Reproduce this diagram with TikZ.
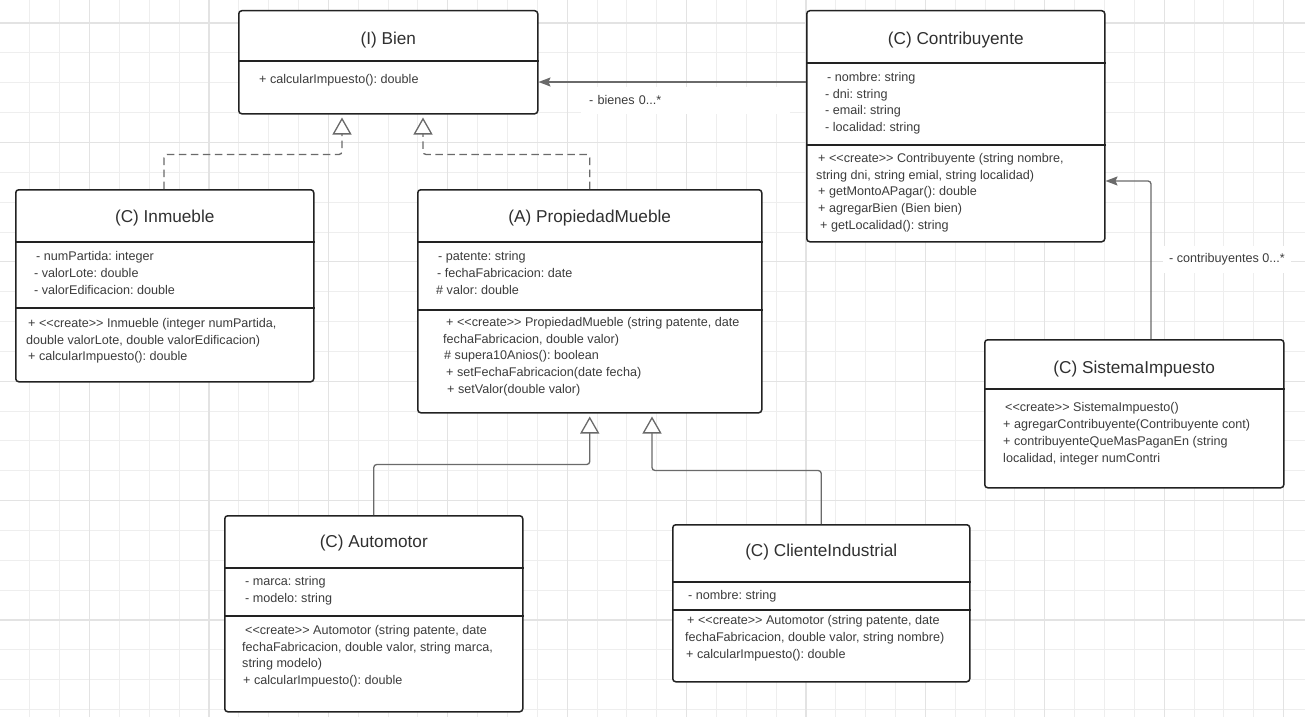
\documentclass[tikz,border=0pt]{standalone}
\usepackage{fontspec}
\setmainfont{Liberation Sans}
\usetikzlibrary{calc,arrows.meta}
\frenchspacing

\definecolor{gridminor}{HTML}{EEEEEE}
\definecolor{gridmajor}{HTML}{E3E3E3}
\definecolor{boxline}{HTML}{222222}
\definecolor{conn}{HTML}{6A6A6A}
\definecolor{txt}{HTML}{3C3C3C}
\definecolor{ttl}{HTML}{303030}

\newcommand{\bodyfont}{\fontsize{12.6}{16.9}\selectfont}
\newcommand{\titlefont}{\fontsize{17.2}{20}\selectfont}
\newcommand{\firstline}{\rule{0pt}{9pt}}
% stereotype in doubled angle brackets, kept apart so no guillemet ligature forms
\newcommand{\stereo}[1]{<{}<#1>{}>}
% compartment rule across a class box, #2 below its top edge
\newcommand{\classsep}[2]{\draw[seprule] ($(#1.north west)+(0,#2)$) -- ($(#1.north east)+(0,#2)$);}

\tikzset{
  classbox/.style={draw=boxline, line width=1.5pt, fill=white, rounded corners=3pt,
                   anchor=north west, inner sep=0pt},
  seprule/.style={draw=boxline, line width=2pt},
  classtitle/.style={font=\titlefont, text=ttl, anchor=center, inner sep=0pt},
  members/.style={font=\bodyfont, text=txt, anchor=north west, inner sep=0pt, align=left},
  assoc/.style={draw=conn, line width=1.3pt, rounded corners=3pt,
                -{Stealth[length=12pt,width=9pt,inset=2pt]}},
  realize/.style={draw=conn, line width=1.3pt, rounded corners=3pt,
                  dash pattern=on 7.5pt off 4.5pt,
                  -{Triangle[length=17pt,width=19pt,fill=white]}},
  generalize/.style={draw=conn, line width=1.3pt, rounded corners=3pt,
                     -{Triangle[length=17pt,width=19pt,fill=white]}},
  rolelabel/.style={fill=white, font=\bodyfont, text=txt, anchor=west,
                    inner ysep=0pt, minimum height=27pt},
  gridthin/.style={draw=gridminor, line width=0.9pt},
  gridthick/.style={draw=gridmajor, line width=1.1pt},
}

\begin{document}
\begin{tikzpicture}[x=1pt,y=-1pt]
  % canvas and grid
  \useasboundingbox (0,0) rectangle (1305,717);
  \fill[white] (0,0) rectangle (1305,717);
  \foreach \k in {1,...,43} \draw[gridthin] (\k*29.85,0) -- (\k*29.85,717);
  \foreach \k in {0,...,23} \draw[gridthin] (0,23+\k*29.85) -- (1305,23+\k*29.85);
  \foreach \k in {3,7,...,43} \draw[gridthick] (\k*29.85,0) -- (\k*29.85,717);
  \foreach \k in {0,4,...,20} \draw[gridthick] (0,23+\k*29.85) -- (1305,23+\k*29.85);

  % class boxes
  \node[classbox, minimum width=299pt, minimum height=103pt] (bien)  at (238,10)  {};
  \node[classbox, minimum width=298pt, minimum height=231pt] (contr) at (806,10)  {};
  \node[classbox, minimum width=298pt, minimum height=192pt] (inm)   at (15,189)  {};
  \node[classbox, minimum width=344pt, minimum height=223pt] (pm)    at (417,189) {};
  \node[classbox, minimum width=298pt, minimum height=196pt] (auto)  at (224,515) {};
  \node[classbox, minimum width=297pt, minimum height=157pt] (cli)   at (672,524) {};
  \node[classbox, minimum width=299pt, minimum height=148pt] (sis)   at (984,339) {};

  % connectors
  \draw[assoc] ($(contr.north west)+(0,72)$) -- ($(bien.north east)+(0,72)$);
  \draw[assoc] ($(sis.north west)+(167,0)$) |- ($(contr.north east)+(0,171)$);
  \draw[realize] ($(inm.north west)+(149,0)$) |- ($(bien.south west)+(104,40)$) -- ($(bien.south west)+(104,3)$);
  \draw[realize] (pm.north) |- ($(bien.south west)+(185,40)$) -- ($(bien.south west)+(185,3)$);
  \draw[generalize] (auto.north) |- ($(pm.south)+(0,51)$) -- ($(pm.south)+(0,3)$);
  \draw[generalize] (cli.north) |- ($(pm.south west)+(235,57)$) -- ($(pm.south west)+(235,3)$);

  % role names
  \node[rolelabel, minimum width=209pt, text width=193pt, inner xsep=8pt, align=left]
    (lblBienes) at (581,100) {- bienes 0...*};
  \node[rolelabel, inner xsep=6pt] (lblContrib) at (1163,259) {- contribuyentes 0...*};

  % (I) Bien
  \node[classtitle] (bienT) at ($(bien.north)+(0,30)$) {(I) Bien};
  \classsep{bien}{51}
  \node[members] (bienM) at ($(bien.north west)+(21,63.8)$)
    {\firstline+ calcularImpuesto(): double};

  % (C) Contribuyente
  \node[classtitle] (contrT) at ($(contr.north)+(0,30)$) {(C) Contribuyente};
  \classsep{contr}{53}
  \node[members] (contrA) at ($(contr.north west)+(19,61.8)$)
    {\firstline\hspace*{2pt}- nombre: string\\- dni: string\\- email: string\\- localidad: string};
  \classsep{contr}{135}
  \node[members] (contrM) at ($(contr.north west)+(10,142.8)$)
    {\firstline\hspace*{2pt}+ \stereo{create} Contribuyente (string nombre,\\
     string dni, string emial, string localidad)\\
     \hspace*{2pt}+ getMontoAPagar(): double\\
     \hspace*{2pt}+ agregarBien (Bien bien)\\
     \hspace*{4pt}+ getLocalidad(): string};

  % (C) Inmueble
  \node[classtitle] (inmT) at ($(inm.north)+(0,28.7)$) {(C) Inmueble};
  \classsep{inm}{53}
  \node[members] (inmA) at ($(inm.north west)+(19,62.5)$)
    {\firstline\hspace*{2pt}- numPartida: integer\\- valorLote: double\\- valorEdificacion: double};
  \classsep{inm}{119}
  \node[members] (inmM) at ($(inm.north west)+(11,128.8)$)
    {\firstline\hspace*{2pt}+ \stereo{create} Inmueble (integer numPartida,\\
     double valorLote, double valorEdificacion)\\
     \hspace*{2pt}+ calcularImpuesto(): double};

  % (A) PropiedadMueble
  \node[classtitle] (pmT) at ($(pm.north)+(0,28.7)$) {(A) PropiedadMueble};
  \classsep{pm}{53}
  \node[members] (pmA) at ($(pm.north west)+(19,62.5)$)
    {\firstline\hspace*{2pt}- patente: string\\\hspace*{1pt}- fechaFabricacion: date\\\# valor: double};
  \classsep{pm}{121}
  \node[members] (pmM) at ($(pm.north west)+(26,127.8)$)
    {\firstline\hspace*{3pt}+ \stereo{create} PropiedadMueble (string patente, date\\
     fechaFabricacion, double valor)\\
     \hspace*{1pt}\# supera10Anios(): boolean\\
     \hspace*{3pt}+ setFechaFabricacion(date fecha)\\
     \hspace*{4pt}+ setValor(double valor)};

  % (C) Automotor
  \node[classtitle] (autoT) at ($(auto.north)+(0,28)$) {(C) Automotor};
  \classsep{auto}{52.7}
  \node[members] (autoA) at ($(auto.north west)+(21,61.5)$)
    {\firstline- marca: string\\- modelo: string};
  \classsep{auto}{100.7}
  \node[members] (autoM) at ($(auto.north west)+(18,109.8)$)
    {\firstline\hspace*{3pt}\stereo{create} Automotor (string patente, date\\
     fechaFabricacion, double valor, string marca,\\
     string modelo)\\
     \hspace*{1pt}+ calcularImpuesto(): double};

  % (C) ClienteIndustrial
  \node[classtitle] (cliT) at ($(cli.north)+(0,27.7)$) {(C) ClienteIndustrial};
  \classsep{cli}{57.7}
  \node[members] (cliA) at ($(cli.north west)+(16,65.8)$)
    {\firstline- nombre: string};
  \classsep{cli}{86}
  \node[members] (cliM) at ($(cli.north west)+(13,91.5)$)
    {\firstline\hspace*{2pt}+ \stereo{create} Automotor (string patente, date\\
     fechaFabricacion, double valor, string nombre)\\
     \hspace*{1pt}+ calcularImpuesto(): double};

  % (C) SistemaImpuesto
  \node[classtitle] (sisT) at ($(sis.north)+(0,30)$) {(C) SistemaImpuesto};
  \classsep{sis}{50.3}
  \node[members] (sisM) at ($(sis.north west)+(19,63.1)$)
    {\firstline\hspace*{2pt}\stereo{create} SistemaImpuesto()\\
     + agregarContribuyente(Contribuyente cont)\\
     + contribuyenteQueMasPaganEn (string\\
     localidad, integer numContri};
\end{tikzpicture}
\end{document}
